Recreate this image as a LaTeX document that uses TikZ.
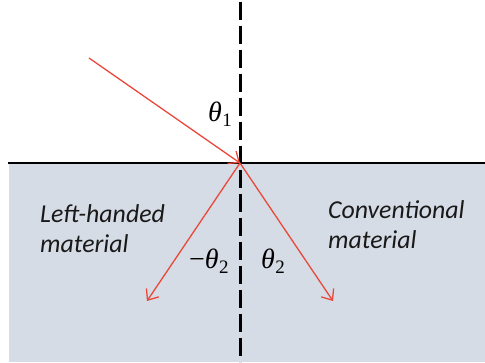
\documentclass[tikz,border=0pt]{standalone}
\usepackage{fontspec}
\setmainfont{Carlito}
\newfontfamily\greekserif{Liberation Serif}
\usetikzlibrary{arrows.meta}
\definecolor{fillblue}{RGB}{214,220,229}
\definecolor{rayred}{RGB}{234,72,58}
\newcommand{\thsub}[1]{{\itshape θ}\kern0.5pt\raisebox{-5pt}{\fontsize{19}{20}\selectfont #1}}
\tikzset{
  ray/.style={draw=rayred, line width=1.3pt, -{Straight Barb[length=9pt,width=15pt,line width=1.3pt]}},
  lbl/.style={font=\fontsize{25.8}{30}\selectfont\itshape, text=black!90, anchor=base west, inner sep=0pt, align=left},
  anglbl/.style={font=\greekserif\fontsize{28}{30}\selectfont, inner sep=0pt, anchor=base west}
}
\begin{document}
\begin{tikzpicture}[x=1pt,y=-1pt]
\useasboundingbox (0,0) rectangle (485,362);
\fill[fillblue] (9,164) rectangle (485,362);
\draw[line width=1.2pt] (8,163) -- (485,163);
\coordinate (top) at (240.5,0);
\coordinate (bot) at (240.5,362);
\draw[line width=2.2pt, dash pattern=on 18pt off 6pt, dash phase=-2pt] (top) -- (bot);
\coordinate (src) at (89,58);
\coordinate (O) at (240,163);
\coordinate (L) at (147,301);
\coordinate (R) at (333,301);
\draw[ray] (src) -- (O);
\draw[ray] (O) -- (L);
\draw[ray] (O) -- (R);
\node[anglbl] (t1) at (208,121) {\thsub{1}};
\node[anglbl] (t2m) at (189,268) {−\thsub{2}};
\node[anglbl] (t2) at (261,268) {\thsub{2}};
\node[lbl] (lh) at (40,252) {Left-handed\\material};
\node[lbl] (cv) at (328,248) {Conventional\\material};
\end{tikzpicture}
\end{document}
